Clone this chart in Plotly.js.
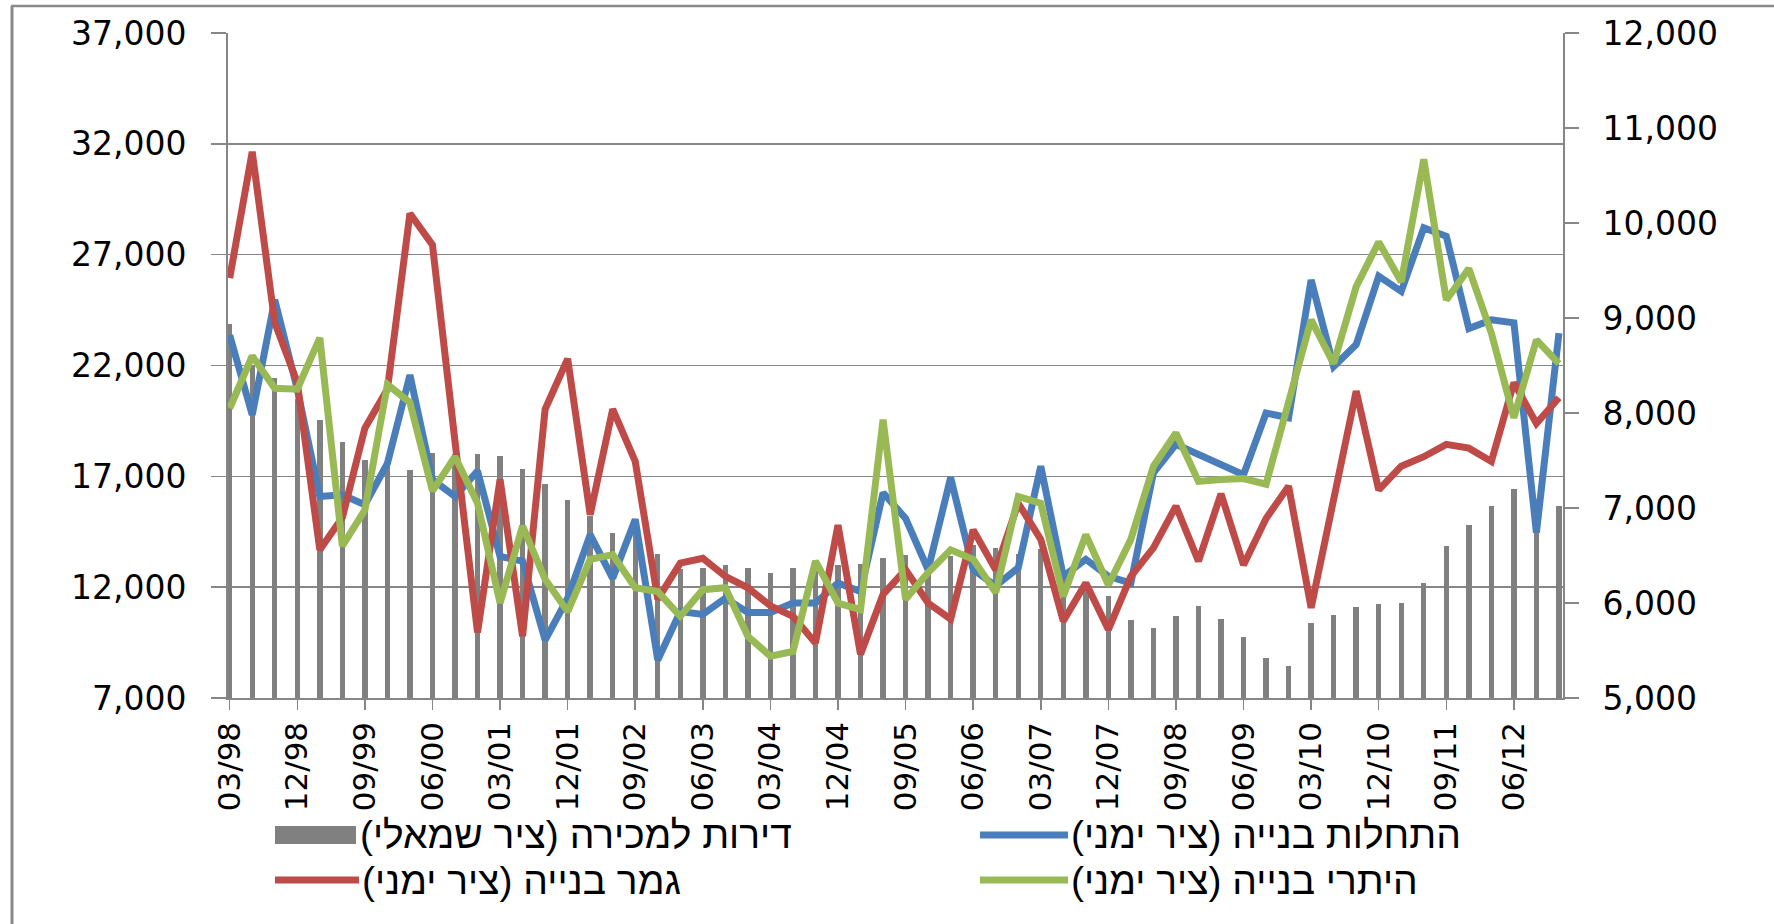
<!DOCTYPE html>
<html>
<head>
<meta charset="utf-8">
<script src="https://cdn.plot.ly/plotly-3.0.1.min.js"></script>
<style>
  html, body { margin: 0; padding: 0; background: #fff; }
  #chart { width: 1774px; height: 924px; }
</style>
</head>
<body>
<div id="chart"></div>
<script>
// ---- data ----
const quarters = ['03/98','06/98','09/98','12/98','03/99','06/99','09/99','12/99',
  '03/00','06/00','09/00','12/00','03/01','06/01','09/01','12/01',
  '03/02','06/02','09/02','12/02','03/03','06/03','09/03','12/03',
  '03/04','06/04','09/04','12/04','03/05','06/05','09/05','12/05',
  '03/06','06/06','09/06','12/06','03/07','06/07','09/07','12/07',
  '03/08','06/08','09/08','12/08','03/09','06/09','09/09','12/09',
  '03/10','06/10','09/10','12/10','03/11','06/11','09/11','12/11',
  '03/12','06/12','09/12','12/12'];

const tickLabels = ['03/98','12/98','09/99','06/00','03/01','12/01','09/02','06/03',
  '03/04','12/04','09/05','06/06','03/07','12/07','09/08','06/09','03/10','12/10',
  '09/11','06/12'];

// apartments for sale (left axis)
const forSale = [23850, 22000, 21450, 20500, 19550, 18550, 17750, 17600,
  17300, 18050, 18000, 18000, 17900, 17350, 16650, 15950,
  15200, 14450, 14900, 13500, 12800, 12850, 13000, 12850,
  12650, 12850, 12900, 13000, 13050, 13300, 13450, 13100,
  13400, 13900, 13750, 13500, 13700, 12600, 12100, 11600,
  10500, 10150, 10700, 11150, 10550, 9750, 8800, 8450,
  10400, 10750, 11100, 11250, 11300, 12200, 13850, 14800,
  15650, 16450, 16000, 15650];

// construction starts (right axis)
const starts = [8820, 7980, 9190, 8250, 7120, 7140, 7035, 7470,
  8400, 7300, 7120, 7390, 6490, 6440, 5610, 6050,
  6720, 6260, 6880, 5400, 5910, 5880, 6050, 5900,
  5900, 6000, 6000, 6210, 6120, 7160, 6890, 6350,
  7320, 6350, 6180, 6370, 7440, 6280, 6460, 6280,
  6210, 7370, 7670, 7560, 7440, 7350, 8000, 7950,
  9400, 8490, 8720, 9440, 9280, 9950, 9860, 8890,
  8980, 8950, 6740, 8840];

// construction completions (right axis)
const completions = [9420, 10750, 8950, 8320, 6560, 6900, 7840, 8250,
  10100, 9770, 7700, 5690, 7300, 5650, 8040, 8570,
  6930, 8040, 7490, 6040, 6420, 6470, 6280, 6160,
  5970, 5860, 5580, 6820, 5460, 6090, 6350, 6000,
  5830, 6770, 6350, 7050, 6670, 5810, 6210, 5720,
  6280, 6580, 7020, 6440, 7150, 6400, 6890, 7230,
  5950, 7090, 8230, 7190, 7440, 7540, 7670, 7630,
  7490, 8320, 7890, 8160];

// building permits (right axis)
const permits = [8050, 8600, 8260, 8250, 8790, 6600, 6980, 8300,
  8110, 7180, 7540, 7050, 6000, 6810, 6250, 5910,
  6460, 6510, 6160, 6120, 5860, 6140, 6160, 5650,
  5440, 5490, 6440, 6000, 5930, 7930, 6040, 6320,
  6560, 6460, 6110, 7120, 7050, 6070, 6720, 6190,
  6670, 7440, 7790, 7280, 7300, 7310, 7250, 8100,
  8980, 8520, 9330, 9800, 9380, 10670, 9190, 9520,
  8840, 7950, 8770, 8520];

const leftTicks = [7000, 12000, 17000, 22000, 27000, 32000, 37000];
const rightTicks = [5000, 6000, 7000, 8000, 9000, 10000, 11000, 12000];

const legendNames = [
  'דירות למכירה (ציר שמאלי)',
  'התחלות בנייה (ציר ימני)',
  'גמר בנייה (ציר ימני)',
  'היתרי בנייה (ציר ימני)'
];

// ---- styling ----
const GREY = '#808080';
const AXIS = '#868686';
const BLUE = '#4A7EBB';
const RED = '#BE4B48';
const GREEN = '#98B954';

const W = 1774, H = 924;
const ML = 228, MR = 211, MT = 33, MB = 226;
const PW = W - ML - MR, PH = H - MT - MB;
const PX = x => (x - ML) / PW;
const PY = y => (H - MB - y) / PH;
const rtl = s => '\u200F' + s + '\u200F';

const traces = [
  { type: 'bar', x: quarters, y: forSale, yaxis: 'y', width: 0.24,
    marker: { color: GREY, line: { width: 0 } }, name: legendNames[0], showlegend: false },
  { type: 'scatter', mode: 'lines', x: quarters, y: starts, yaxis: 'y2',
    line: { color: BLUE, width: 7 }, name: legendNames[1], showlegend: false },
  { type: 'scatter', mode: 'lines', x: quarters, y: completions, yaxis: 'y2',
    line: { color: RED, width: 7 }, name: legendNames[2], showlegend: false },
  { type: 'scatter', mode: 'lines', x: quarters, y: permits, yaxis: 'y2',
    line: { color: GREEN, width: 7 }, name: legendNames[3], showlegend: false }
];

const tickFont = { family: 'DejaVu Sans', size: 33, color: '#000' };
const legFont = { family: 'Liberation Sans', size: 39, color: '#000' };

const shapes = [
  // outer frame (left + top)
  { type: 'line', xref: 'paper', yref: 'paper', x0: PX(12), x1: PX(12), y0: PY(924), y1: PY(6),
    line: { color: '#8a8a8a', width: 3 } },
  { type: 'line', xref: 'paper', yref: 'paper', x0: PX(11), x1: PX(1774), y0: PY(6), y1: PY(6),
    line: { color: '#8a8a8a', width: 2.5 } },
  // legend symbols
  { type: 'rect', xref: 'paper', yref: 'paper', x0: PX(275), x1: PX(356), y0: PY(844), y1: PY(826),
    fillcolor: GREY, line: { width: 0 } },
  { type: 'line', xref: 'paper', yref: 'paper', x0: PX(980), x1: PX(1068), y0: PY(835), y1: PY(835),
    line: { color: BLUE, width: 7 } },
  { type: 'line', xref: 'paper', yref: 'paper', x0: PX(275), x1: PX(359), y0: PY(880), y1: PY(880),
    line: { color: RED, width: 7 } },
  { type: 'line', xref: 'paper', yref: 'paper', x0: PX(980), x1: PX(1068), y0: PY(880), y1: PY(880),
    line: { color: GREEN, width: 7 } }
];

const legendPos = [[358, 835], [1069, 835], [360, 880], [1069, 880]];
const annotations = legendNames.map((t, i) => ({
  xref: 'paper', yref: 'paper', x: PX(legendPos[i][0]), y: PY(legendPos[i][1]),
  xanchor: 'left', yanchor: 'middle', showarrow: false, text: rtl(t), font: legFont
}));

const layout = {
  width: W, height: H,
  margin: { l: ML, r: MR, t: MT, b: MB, autoexpand: false },
  paper_bgcolor: '#fff', plot_bgcolor: '#fff',
  showlegend: false,
  bargap: 0,
  xaxis: {
    type: 'category', range: [-0.075, 59.18],
    tickmode: 'array', tickvals: tickLabels, ticktext: tickLabels,
    tickangle: -90, ticks: 'outside', ticklen: 10, tickwidth: 1.5, tickcolor: AXIS,
    showline: true, linecolor: AXIS, linewidth: 1.5, showgrid: false, zeroline: false,
    tickfont: { family: 'DejaVu Sans', size: 31, color: '#000' }
  },
  yaxis: {
    range: [7000, 37000], tickmode: 'array', tickvals: leftTicks,
    tickformat: ',d', ticks: 'outside', ticklen: 15, tickwidth: 1.5, tickcolor: AXIS,
    showline: true, linecolor: AXIS, linewidth: 2,
    showgrid: true, gridcolor: AXIS, gridwidth: 1.5, zeroline: false,
    tickfont: tickFont, ticklabelstandoff: 18
  },
  yaxis2: {
    overlaying: 'y', side: 'right',
    range: [5000, 12000], tickmode: 'array', tickvals: rightTicks,
    tickformat: ',d', ticks: 'outside', ticklen: 14, tickwidth: 1.5, tickcolor: AXIS,
    showline: true, linecolor: AXIS, linewidth: 2,
    showgrid: false, zeroline: false,
    tickfont: tickFont, ticklabelstandoff: 17
  },
  shapes: shapes,
  annotations: annotations
};

Plotly.newPlot('chart', traces, layout, { staticPlot: true, displayModeBar: false });
</script>
</body>
</html>
